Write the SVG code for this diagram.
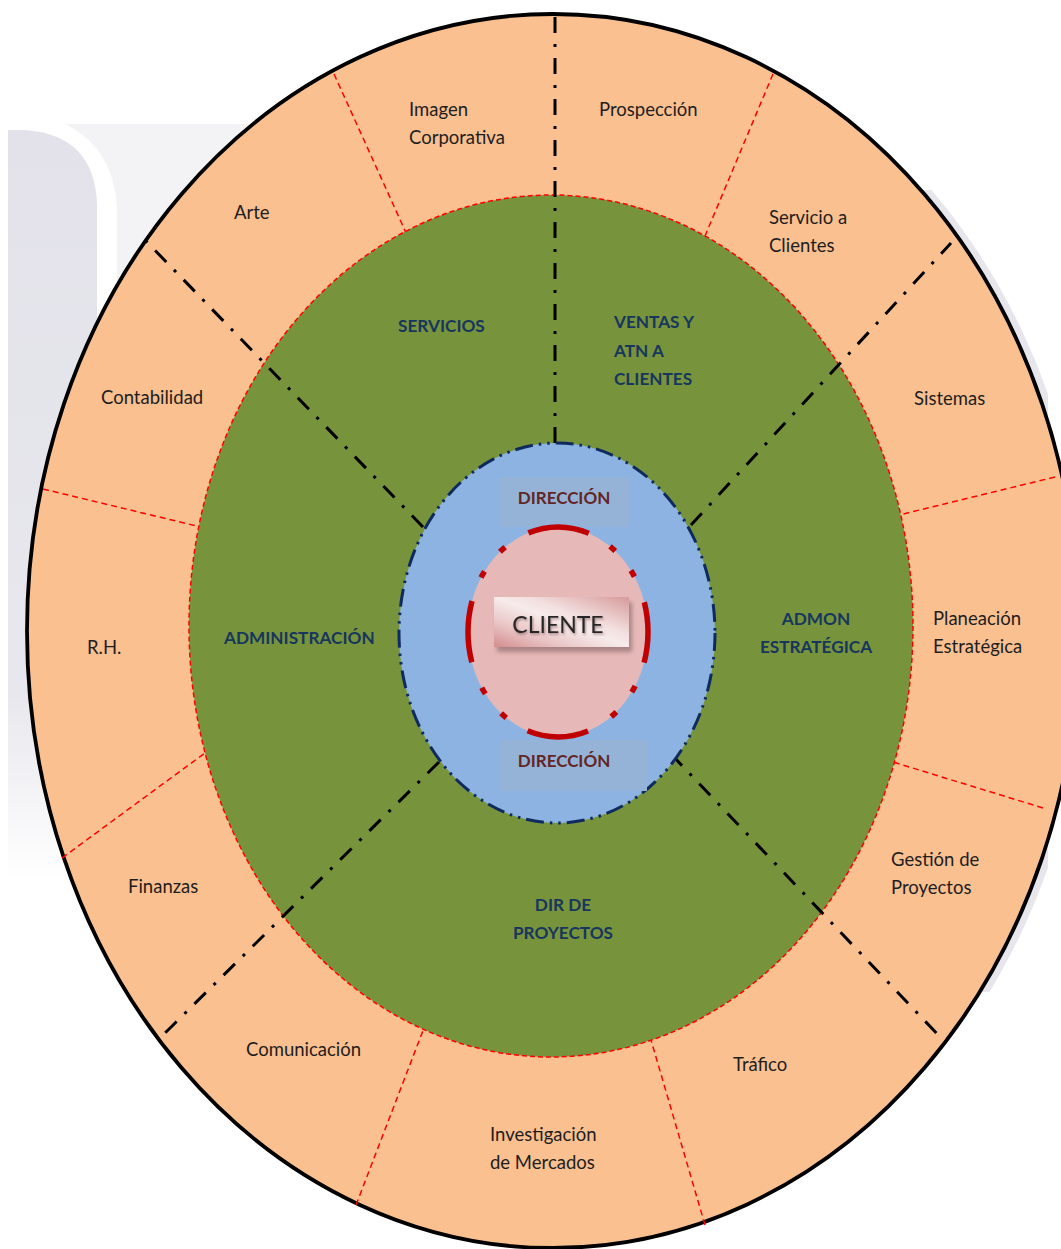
<svg xmlns="http://www.w3.org/2000/svg" width="1061" height="1249" viewBox="0 0 1061 1249">
  <defs>
    <style>
      .lbl{font-family:Lato,"Open Sans","Liberation Sans",sans-serif;font-size:18.5px;fill:#1e1e1e}
      .hd{font-family:Lato,"Open Sans","Liberation Sans",sans-serif;font-size:17.2px;font-weight:bold;fill:#17365d}
      .dir{font-family:Lato,"Open Sans","Liberation Sans",sans-serif;font-size:17px;font-weight:bold;fill:#632523}
      .div-black{stroke:#000;stroke-width:3;stroke-dasharray:16 11 3 11;fill:none}
      .div-red{stroke:#ff0000;stroke-width:1.5;stroke-dasharray:6 4;fill:none}
    </style>
    <linearGradient id="gLeft" x1="0" y1="0" x2="0" y2="1">
      <stop offset="0" stop-color="#e3e2ea"/>
      <stop offset="0.75" stop-color="#e7e7ed"/>
      <stop offset="1" stop-color="#ffffff"/>
    </linearGradient>
    <linearGradient id="gBox" x1="0" y1="1" x2="1" y2="0">
      <stop offset="0" stop-color="#d38c8c"/>
      <stop offset="0.25" stop-color="#e9c4c4"/>
      <stop offset="0.5" stop-color="#f7ebeb"/>
      <stop offset="0.62" stop-color="#f3e0e0"/>
      <stop offset="1" stop-color="#d79a9a"/>
    </linearGradient>
    <filter id="blur" x="-20%" y="-50%" width="140%" height="200%">
      <feGaussianBlur stdDeviation="2"/>
    </filter>
    <filter id="tshadow" x="-10%" y="-30%" width="120%" height="160%">
      <feDropShadow dx="1" dy="1.5" stdDeviation="0.8" flood-color="#6b4a4a" flood-opacity="0.6"/>
    </filter>
    <clipPath id="rightClip"><rect x="900" y="190" width="148" height="802"/></clipPath>
  </defs>

  <rect width="1061" height="1249" fill="#ffffff"/>

  <!-- faint background shapes -->
  <g id="background">
    <path d="M65,124 H320 V420 H117 V215 Q117,150 65,124 Z" fill="#f3f3f6"/>
    <path d="M8,130 H25 Q95,135 97,205 V880 H8 Z" fill="url(#gLeft)"/>
    <ellipse cx="553" cy="631" rx="535" ry="624" fill="#e6e6ec" clip-path="url(#rightClip)"/>
  </g>

  <!-- outer ring -->
  <g id="outer-ring">
    <ellipse cx="553" cy="631" rx="526" ry="617" fill="#fac090" stroke="#000" stroke-width="3.8"/>
  </g>

  <g id="connectors">
    <!-- red dashed dividers of the outer ring -->
    <line class="div-red" x1="334" y1="74" x2="407" y2="235"/>
    <line class="div-red" x1="773" y1="74" x2="705" y2="236"/>
    <line class="div-red" x1="43" y1="489" x2="205" y2="528"/>
    <line class="div-red" x1="62" y1="858" x2="205" y2="753"/>
    <line class="div-red" x1="1055" y1="477" x2="899" y2="515"/>
    <line class="div-red" x1="1043" y1="808" x2="893" y2="762"/>
    <line class="div-red" x1="356" y1="1205" x2="424" y2="1028"/>
    <line class="div-red" x1="705" y1="1225" x2="651" y2="1040"/>
  </g>

  <!-- green ring -->
  <g id="middle-ring">
    <ellipse cx="551" cy="626" rx="362" ry="431" fill="#77933c" stroke="#ff0000" stroke-width="1.5" stroke-dasharray="5 3"/>
  </g>

  <g id="connectors-main">
    <line class="div-black" x1="555" y1="443" x2="555" y2="16"/>
    <line class="div-black" x1="423" y1="527" x2="145" y2="240"/>
    <line class="div-black" x1="691" y1="525" x2="951" y2="243"/>
    <line class="div-black" x1="439" y1="762" x2="163" y2="1035"/>
    <line class="div-black" x1="671" y1="754" x2="943" y2="1040"/>
  </g>

  <!-- blue ring -->
  <g id="inner-ring">
    <ellipse cx="557" cy="633" rx="158" ry="190" fill="#8db3e2" stroke="#0f2a5e" stroke-width="3" stroke-dasharray="18 6 2.5 6 2.5 6"/>
  </g>

  <g id="direccion-top">
    <rect x="499" y="477" width="130" height="50" fill="#95b3d7"/>
    <text class="dir" x="564" y="504" text-anchor="middle">DIRECCIÓN</text>
  </g>
  <g id="direccion-bottom">
    <rect x="500" y="740" width="147" height="51" fill="#95b3d7"/>
    <text class="dir" x="564" y="767" text-anchor="middle">DIRECCIÓN</text>
  </g>

  <!-- client core -->
  <g id="cliente">
    <ellipse cx="558" cy="632" rx="90" ry="105" fill="#e6b9b8" stroke="#c00000" stroke-width="5.5" stroke-dasharray="62 25 7 25 7 27.4" stroke-dashoffset="31"/>
    <rect x="497" y="602" width="135" height="50" fill="#7a5a5a" opacity="0.55" filter="url(#blur)"/>
    <rect x="494" y="597" width="135" height="50" fill="url(#gBox)"/>
    <text x="558" y="633" text-anchor="middle" font-family="Lato,'Open Sans','Liberation Sans',sans-serif" font-size="23" fill="#262626" filter="url(#tshadow)">CLIENTE</text>
  </g>

  <!-- green ring labels -->
  <g id="servicios"><text class="hd" x="398" y="332">SERVICIOS</text></g>
  <g id="ventas">
    <text class="hd" x="614" y="328">VENTAS Y</text>
    <text class="hd" x="614" y="357">ATN A</text>
    <text class="hd" x="614" y="385">CLIENTES</text>
  </g>
  <g id="administracion"><text class="hd" x="224" y="644">ADMINISTRACIÓN</text></g>
  <g id="admon">
    <text class="hd" x="816" y="625" text-anchor="middle">ADMON</text>
    <text class="hd" x="816" y="653" text-anchor="middle">ESTRATÉGICA</text>
  </g>
  <g id="dir-proyectos">
    <text class="hd" x="563" y="911" text-anchor="middle">DIR DE</text>
    <text class="hd" x="563" y="939" text-anchor="middle">PROYECTOS</text>
  </g>

  <!-- outer ring labels -->
  <g id="imagen"><text class="lbl" x="409" y="116">Imagen</text><text class="lbl" x="409" y="144">Corporativa</text></g>
  <g id="prospeccion"><text class="lbl" x="599" y="116">Prospección</text></g>
  <g id="arte"><text class="lbl" x="234" y="219">Arte</text></g>
  <g id="servicio-clientes"><text class="lbl" x="769" y="224">Servicio a</text><text class="lbl" x="769" y="252">Clientes</text></g>
  <g id="contabilidad"><text class="lbl" x="101" y="404">Contabilidad</text></g>
  <g id="sistemas"><text class="lbl" x="914" y="405">Sistemas</text></g>
  <g id="rh"><text class="lbl" x="87" y="654">R.H.</text></g>
  <g id="planeacion"><text class="lbl" x="933" y="625">Planeación</text><text class="lbl" x="933" y="653">Estratégica</text></g>
  <g id="finanzas"><text class="lbl" x="128" y="893">Finanzas</text></g>
  <g id="gestion"><text class="lbl" x="891" y="866">Gestión de</text><text class="lbl" x="891" y="894">Proyectos</text></g>
  <g id="comunicacion"><text class="lbl" x="246" y="1056">Comunicación</text></g>
  <g id="trafico"><text class="lbl" x="733" y="1071">Tráfico</text></g>
  <g id="investigacion"><text class="lbl" x="490" y="1141">Investigación</text><text class="lbl" x="490" y="1169">de Mercados</text></g>
</svg>
